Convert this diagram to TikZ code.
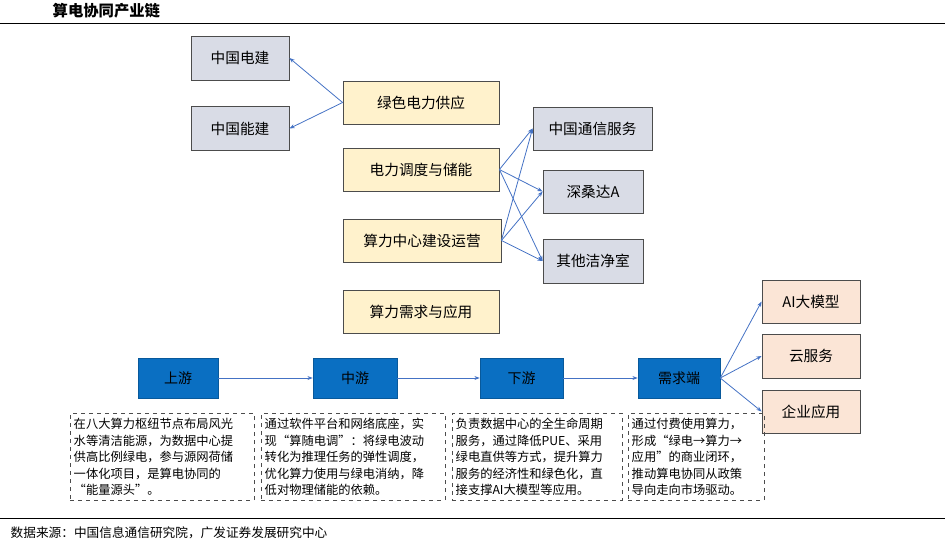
\documentclass[tikz,border=0pt]{standalone}
\usepackage{fontspec}
\setmainfont{Noto Sans CJK SC}
\usetikzlibrary{arrows.meta}
\definecolor{gbox}{HTML}{D9DCE6}
\definecolor{ybox}{HTML}{FFF2CC}
\definecolor{bbox}{HTML}{0A6FC2}
\definecolor{pbox}{HTML}{FBE5D6}
\definecolor{arr}{HTML}{4472C4}
\begin{document}
\begin{tikzpicture}[x=0.75pt,y=-0.75pt,
 bx/.style={draw=black!70,line width=0.6pt,font=\fontsize{11}{13}\selectfont},
 gb/.style={bx,fill=gbox},
 yb/.style={bx,fill=ybox},
 pb/.style={bx,fill=pbox},
 ub/.style={draw=bbox!80!black,fill=bbox,font=\fontsize{10.5}{13}\selectfont},
 db/.style={draw=black!70,dashed,line width=0.6pt,font=\fontsize{9.2}{12.4}\selectfont,align=left,anchor=north west,inner xsep=2.5pt,inner ysep=1.5pt},
 ar/.style={draw=arr,line width=0.6pt,-{Stealth[length=4pt,width=3pt]}}]
\useasboundingbox (0,0) rectangle (945,544);
\node[anchor=west,font=\bfseries\fontsize{11.5}{13}\selectfont] (title) at (48,11) {算电协同产业链};
\draw[line width=0.6pt] (0,23) -- (945,23);
\draw[line width=0.6pt] (0,518) -- (945,518);
\node[anchor=west,font=\fontsize{9.5}{12}\selectfont] (src) at (6,533) {数据来源：中国信息通信研究院，广发证券发展研究中心};
\node[gb,minimum width=98pt*0.75,minimum height=44pt*0.75] (a1) at (240,58) {中国电建};
\node[gb,minimum width=98pt*0.75,minimum height=44pt*0.75] (a2) at (240,128.5) {中国能建};
\node[yb,minimum width=156pt*0.75,minimum height=43pt*0.75] (y1) at (421,102.5) {绿色电力供应};
\node[yb,minimum width=156pt*0.75,minimum height=43pt*0.75] (y2) at (421,169.5) {电力调度与储能};
\node[yb,minimum width=158pt*0.75,minimum height=43pt*0.75] (y3) at (422,240.5) {算力中心建设运营};
\node[yb,minimum width=156pt*0.75,minimum height=43pt*0.75] (y4) at (421,311.5) {算力需求与应用};
\node[gb,minimum width=119pt*0.75,minimum height=43pt*0.75] (c1) at (592.5,128.5) {中国通信服务};
\node[gb,minimum width=100pt*0.75,minimum height=43pt*0.75] (c2) at (593,191.5) {深桑达A};
\node[gb,minimum width=100pt*0.75,minimum height=44pt*0.75] (c3) at (593,261) {其他洁净室};
\node[ub,minimum width=80pt*0.75,minimum height=40pt*0.75] (u1) at (178,378) {上游};
\node[ub,minimum width=84pt*0.75,minimum height=40pt*0.75] (u2) at (355,378) {中游};
\node[ub,minimum width=83pt*0.75,minimum height=40pt*0.75] (u3) at (521.5,378) {下游};
\node[ub,minimum width=82pt*0.75,minimum height=40pt*0.75] (u4) at (679,378) {需求端};
\node[pb,minimum width=98pt*0.75,minimum height=43pt*0.75] (p1) at (811,301.5) {AI大模型};
\node[pb,minimum width=98pt*0.75,minimum height=44pt*0.75] (p2) at (811,356) {云服务};
\node[pb,minimum width=98pt*0.75,minimum height=43pt*0.75] (p3) at (811,411.5) {企业应用};
\node[db,text width=177pt*0.75,minimum height=87pt*0.75] (d1) at (70,413) {在八大算力枢纽节点布局风光\\水等清洁能源，为数据中心提\\供高比例绿电，参与源网荷储\\一体化项目，是算电协同的\\“能量源头”。};
\node[db,text width=177pt*0.75,minimum height=87pt*0.75] (d2) at (261,413) {通过软件平台和网络底座，实\\现“算随电调”：将绿电波动\\转化为推理任务的弹性调度，\\优化算力使用与绿电消纳，降\\低对物理储能的依赖。};
\node[db,text width=163pt*0.75,minimum height=87pt*0.75] (d3) at (452,413) {负责数据中心的全生命周期\\服务，通过降低PUE、采用\\绿电直供等方式，提升算力\\服务的经济性和绿色化，直\\接支撑AI大模型等应用。};
\node[db,text width=129pt*0.75,minimum height=87pt*0.75] (d4) at (628,413) {通过付费使用算力，\\形成“绿电→算力→\\应用”的商业闭环，\\推动算电协同从政策\\导向走向市场驱动。};
\draw[ar] (y1.west) -- (a1.east);
\draw[ar] (y1.west) -- (a2.east);
\foreach \s in {y2,y3}{\foreach \t in {c1,c2,c3}{\draw[ar] (\s.east) -- (\t.west);}}
\draw[ar] (u1) -- (u2);
\draw[ar] (u2) -- (u3);
\draw[ar] (u3) -- (u4);
\foreach \t in {p1,p2,p3}{\draw[ar] (u4.east) -- (\t.west);}
\end{tikzpicture}
\end{document}
